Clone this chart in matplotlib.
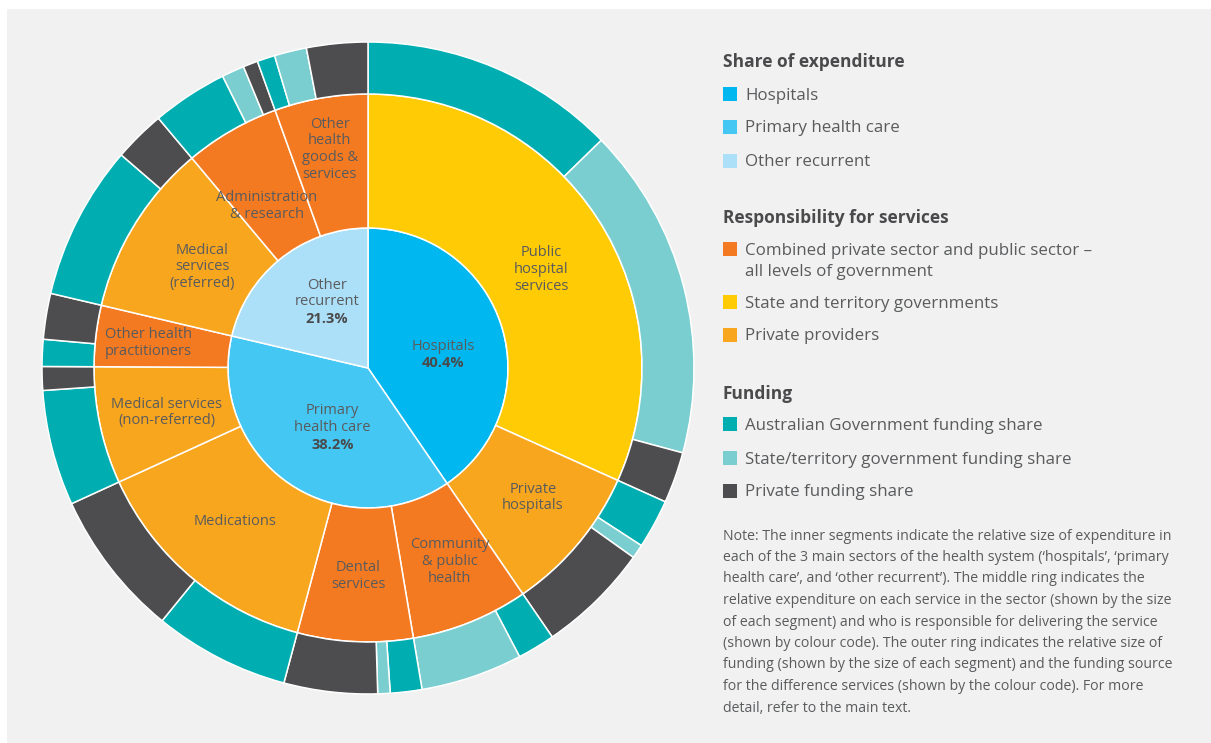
import matplotlib
matplotlib.use("Agg")
import matplotlib.pyplot as plt
from matplotlib.patches import Rectangle
import numpy as np

plt.rcParams['font.family'] = ['Open Sans', 'DejaVu Sans']

# ---- data -------------------------------------------------------------
sectors = ["Hospitals", "Primary\nhealth care", "Other\nrecurrent"]
sector_share = [40.4, 38.2, 21.3]

services = [
    "Public\nhospital\nservices", "Private\nhospitals",
    "Community\n& public\nhealth", "Dental\nservices", "Medications",
    "Medical services\n(non-referred)", "Other health\npractitioners",
    "Medical\nservices\n(referred)", "Administration\n& research",
    "Other\nhealth\ngoods &\nservices",
]
service_share = [31.7, 8.7, 6.9, 6.8, 14.0, 6.9, 3.6, 10.2, 5.6, 5.5]
# responsible party: C = combined private/public, S = state/territory, P = private
service_resp = ["S", "P", "C", "C", "P", "P", "C", "P", "C", "C"]

# funding split within each service (%): Australian Govt, state/territory, private
fund_aus = [40, 28, 27, 23, 48, 83, 37, 75, 67, 16]
fund_state = [52, 8, 73, 9, 0, 0, 0, 0, 20, 29]
fund_private = [8, 64, 0, 68, 52, 17, 63, 25, 13, 55]

# ---- colours ----------------------------------------------------------
sector_colors = ["#00B8EF", "#45C7F4", "#ACE0F9"]
resp_colors = {"C": "#F47A21", "S": "#FFCB05", "P": "#F8A61E"}
fund_colors = ["#00AEB2", "#7ACED0", "#4D4D4F"]
txt = "#5A5B5D"
dark_txt = "#4A4A4C"
bg = "#F1F1F1"

W, H = 1211, 743
fig = plt.figure(figsize=(W / 100, H / 100), dpi=100)
fig.patch.set_facecolor("white")
fig.patches.append(Rectangle((7 / W, 0), 1, (H - 9) / H, transform=fig.transFigure,
                             facecolor=bg, edgecolor="none", zorder=-10))

# chart axes: 1 data unit = 1 pixel, centred on the rings
cx, cy, half = 368, 368, 340
ax = fig.add_axes([(cx - half) / W, (H - cy - half) / H, 2 * half / W, 2 * half / H])

R_in, R_mid, R_out = 140, 274, 326
edge = dict(edgecolor="white", linewidth=1.1)

inner, _ = ax.pie(sector_share, radius=R_in, startangle=90, counterclock=False,
                  colors=sector_colors, wedgeprops=dict(**edge))
middle, _ = ax.pie(service_share, radius=R_mid, startangle=90, counterclock=False,
                   colors=[resp_colors[r] for r in service_resp],
                   wedgeprops=dict(width=R_mid - R_in, **edge))

outer_vals, outer_cols = [], []
for v, a, s, p in zip(service_share, fund_aus, fund_state, fund_private):
    for share, col in zip((a, s, p), fund_colors):
        if share > 0:
            outer_vals.append(v * share / 100)
            outer_cols.append(col)
ax.pie(outer_vals, radius=R_out, startangle=90, counterclock=False,
       colors=outer_cols, wedgeprops=dict(width=R_out - R_mid, **edge))

ax.set_xlim(-half, half)
ax.set_ylim(-half, half)
ax.set_aspect("equal")
ax.axis("off")


def mid_angle(w):
    return np.deg2rad((w.theta1 + w.theta2) / 2)


LS = 1.16     # line spacing of wedge labels
LINE = 17.0   # resulting line pitch in pixels

# labels in the middle ring (radius, angular nudge in degrees)
svc_layout = [(200, -3), (209, 2), (209, 1), (207, 0), (202, -1),
              (206, 0), (221, 0), (195, 0), (192, 2), (223, 0)]
for w, name, (r, da) in zip(middle, services, svc_layout):
    a = mid_angle(w) + np.deg2rad(da)
    ax.text(r * np.cos(a), r * np.sin(a) - 1, name, ha="center", va="center",
            fontsize=10.5, color=txt, linespacing=LS)

# labels in the inner pie: name block with the bold share underneath
sec_layout = [(77, -6), (68, 3), (79, -7)]
for w, name, val, (r, da) in zip(inner, sectors, sector_share, sec_layout):
    a = mid_angle(w) + np.deg2rad(da)
    x, y = r * np.cos(a), r * np.sin(a) - 1.5
    n = name.count("\n") + 1
    ax.text(x, y + LINE / 2, name, ha="center", va="center", fontsize=10.5,
            color=txt, linespacing=LS)
    ax.text(x, y - LINE * n / 2, f"{val}%", ha="center", va="center",
            fontsize=10.5, color=dark_txt, fontweight="bold")

# ---- legend and note --------------------------------------------------
lx, tx = 723 / W, 745 / W


def fy(py):
    return 1 - py / H


def heading(py, s):
    fig.text(lx, fy(py + 2), s, fontsize=12.5, fontweight="bold", color=dark_txt,
             va="center", ha="left")


def item(py, col, s):
    fig.patches.append(Rectangle((lx, fy(py + 7)), 14 / W, 14 / H,
                                 transform=fig.transFigure, facecolor=col,
                                 edgecolor="none"))
    fig.text(tx, fy(py + 1.5), s, fontsize=12.2, color=txt, va="center", ha="left")


heading(60, "Share of expenditure")
item(94, sector_colors[0], "Hospitals")
item(127, sector_colors[1], "Primary health care")
item(161, sector_colors[2], "Other recurrent")

heading(216, "Responsibility for services")
item(249, resp_colors["C"], "Combined private sector and public sector \u2013")
fig.text(tx, fy(272.5), "all levels of government", fontsize=12.2, color=txt,
         va="center", ha="left")
item(302, resp_colors["S"], "State and territory governments")
item(335, resp_colors["P"], "Private providers")

heading(392, "Funding")
item(424, fund_colors[0], "Australian Government funding share")
item(458, fund_colors[1], "State/territory government funding share")
item(491, fund_colors[2], "Private funding share")

note = [
    "Note: The inner segments indicate the relative size of expenditure in",
    "each of the 3 main sectors of the health system (\u2018hospitals\u2019, \u2018primary",
    "health care\u2019, and \u2018other recurrent\u2019). The middle ring indicates the",
    "relative expenditure on each service in the sector (shown by the size",
    "of each segment) and who is responsible for delivering the service",
    "(shown by colour code). The outer ring indicates the relative size of",
    "funding (shown by the size of each segment) and the funding source",
    "for the difference services (shown by the colour code). For more",
    "detail, refer to the main text.",
]
for i, line in enumerate(note):
    fig.text(lx, fy(536 + i * 21.5), line, fontsize=10.2, color=txt,
             va="center", ha="left")

fig.savefig("out.png", dpi=100, facecolor=fig.get_facecolor())
